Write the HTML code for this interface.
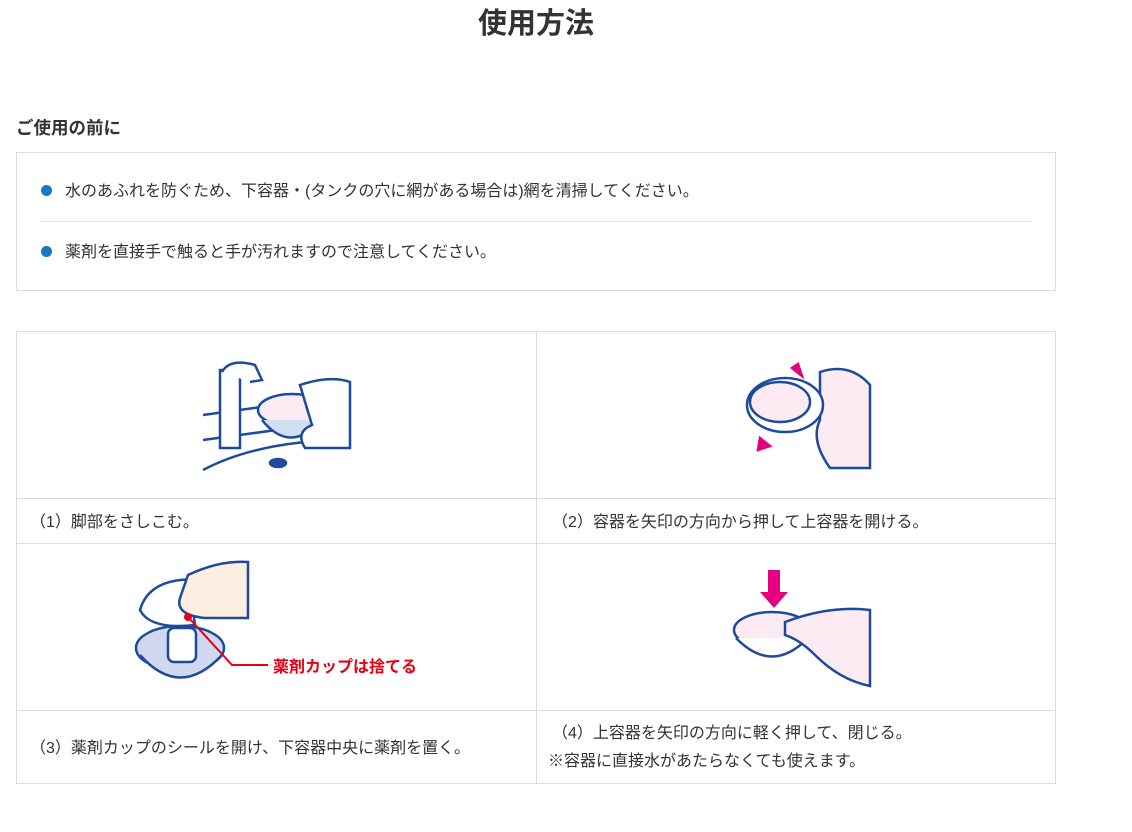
<!DOCTYPE html>
<html><head><meta charset="utf-8"><style>
body{margin:0;width:1132px;height:832px;background:#fff;font-family:"Liberation Sans","Noto Sans CJK JP",sans-serif;color:#333;position:relative;overflow:hidden}
.a{position:absolute}
h1{position:absolute;left:0;width:1072px;top:0px;margin:0;text-align:center;font-size:29px;font-weight:bold;color:#333}
.t{font-size:16px;white-space:nowrap}
.dot{width:11px;height:11px;border-radius:50%;background:#1a78c2}
.line{background:#ddd}
</style></head><body>
<h1>使用方法</h1>
<div class="a t" style="left:16px;top:115px;font-weight:bold;font-size:17.5px">ご使用の前に</div>
<div class="a" style="left:16px;top:152px;width:1038px;height:137px;border:1px solid #ddd"></div>
<div class="a dot" style="left:41px;top:185px"></div>
<div class="a t" style="left:65px;top:177px">水のあふれを防ぐため、下容器・(タンクの穴に網がある場合は)網を清掃してください。</div>
<div class="a" style="left:40px;top:221px;width:991px;border-top:1px dotted #ccc"></div>
<div class="a dot" style="left:41px;top:246px"></div>
<div class="a t" style="left:65px;top:238px">薬剤を直接手で触ると手が汚れますので注意してください。</div>

<div class="a" style="left:16px;top:331px;width:1038px;height:451px;border:1px solid #ddd"></div>
<div class="a line" style="left:536px;top:331px;width:1px;height:452px"></div>
<div class="a line" style="left:16px;top:498px;width:1040px;height:1px"></div>
<div class="a line" style="left:16px;top:543px;width:1040px;height:1px"></div>
<div class="a line" style="left:16px;top:710px;width:1040px;height:1px"></div>
<div class="a t" style="left:30px;top:508px">（1）脚部をさしこむ。</div>
<div class="a t" style="left:552px;top:508px">（2）容器を矢印の方向から押して上容器を開ける。</div>
<div class="a t" style="left:30px;top:734px">（3）薬剤カップのシールを開け、下容器中央に薬剤を置く。</div>
<div class="a t" style="left:552px;top:719px">（4）上容器を矢印の方向に軽く押して、閉じる。</div>
<div class="a t" style="left:548px;top:747px">※容器に直接水があたらなくても使えます。</div>

<svg class="a" style="left:0;top:0" width="1132" height="832" fill="none" stroke="#1d4a9c" stroke-width="2.5">
<path d="M203 470 Q260 440 350 440"/><path d="M203 415 L350 395 M203 440 L350 420"/>
<rect x="220" y="370" width="20" height="78" fill="#fff"/><path d="M222 372 Q230 358 255 365 L262 380 L250 382" fill="#fff"/>
<ellipse cx="292" cy="410" rx="34" ry="16" fill="#fcebf2"/><path d="M262 420 Q290 455 322 420" fill="#cfe0f2"/>
<path d="M300 385 Q330 375 350 382 L350 448 L305 448 Q295 432 312 425 Z" fill="#fff"/>
<ellipse cx="278" cy="463" rx="8" ry="4" fill="#1d4a9c"/>
<path d="M820 372 Q850 362 870 385 L870 468 L830 468 Q810 440 820 420 Z" fill="#fcebf2"/>
<ellipse cx="785" cy="405" rx="38" ry="27" fill="#fff"/><ellipse cx="780" cy="402" rx="30" ry="20" fill="#fcebf2"/>
<path d="M792 368 l10 8 l-4-12 z M758 450 l12-4 l-10-8 z" fill="#e4007f" stroke="#e4007f"/>
<ellipse cx="180" cy="648" rx="44" ry="22" fill="#cfd8ee"/><path d="M140 655 Q180 700 222 655" fill="#cfd8ee"/>
<rect x="168" y="628" width="28" height="34" rx="6" fill="#fff"/>
<path d="M140 610 Q150 575 205 580 Q190 600 195 625 Q150 630 140 610Z" fill="#fff"/>
<path d="M188 575 Q220 560 248 562 L248 618 L205 618 Q175 615 180 598Z" fill="#fdeee2"/>
<circle cx="188" cy="617" r="4" fill="#e60012" stroke="none"/>
<path d="M188 617 L232 665 L268 665" stroke="#e60012" stroke-width="2"/>
<path d="M768 570 h12 v22 h8 l-14 16 l-14-16 h8z" fill="#e4007f" stroke="none"/>
<ellipse cx="772" cy="630" rx="38" ry="18" fill="#fcebf2"/><path d="M736 638 Q772 675 808 638" fill="#fff"/>
<path d="M785 622 Q830 605 870 610 L870 686 Q840 680 815 655 Q800 640 785 635Z" fill="#fcebf2"/>
</svg>
<div class="a" style="left:273px;top:653px;font-size:16px;color:#e60012;font-weight:bold">薬剤カップは捨てる</div>
</body></html>
